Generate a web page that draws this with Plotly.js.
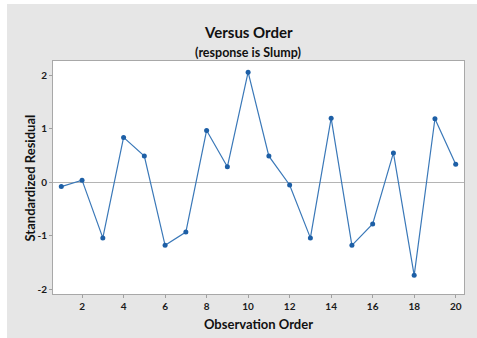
<!DOCTYPE html>
<html>
<head>
<meta charset="utf-8">
<script src="https://cdn.plot.ly/plotly-3.0.1.min.js"></script>
<style>
  html, body { margin: 0; padding: 0; background: #ffffff; }
  #chart { position: absolute; left: 7px; top: 4px; width: 470px; height: 334px; }
</style>
</head>
<body>
<div id="chart"></div>
<script>
const observationOrder = [1,2,3,4,5,6,7,8,9,10,11,12,13,14,15,16,17,18,19,20];
const standardizedResidual = [-0.08, 0.04, -1.04, 0.84, 0.49, -1.18, -0.93, 0.97, 0.29, 2.06,
                              0.49, -0.05, -1.04, 1.20, -1.18, -0.78, 0.55, -1.74, 1.19, 0.34];
const xTicks = [2,4,6,8,10,12,14,16,18,20];
const yTicks = [-2,-1,0,1,2];
const titleText = "Versus Order";
const subtitleText = "(response is Slump)";
const xTitle = "Observation Order";
const yTitle = "Standardized Residual";

const fontFam = "Lato, 'Liberation Sans', sans-serif";

const trace = {
  x: observationOrder,
  y: standardizedResidual,
  type: 'scatter',
  mode: 'lines+markers',
  line: { color: '#3a78b8', width: 1.2 },
  marker: { color: '#1d5fa6', size: 5 },
  hoverinfo: 'x+y'
};

const layout = {
  width: 470, height: 334,
  paper_bgcolor: '#e6e6e6',
  plot_bgcolor: '#ffffff',
  margin: { l: 46, r: 13, t: 57, b: 44 },
  showlegend: false,
  font: { family: fontFam, color: '#1a1a1a' },
  xaxis: {
    range: [0.6, 20.4],
    tickvals: xTicks,
    ticktext: xTicks.map(String),
    ticks: 'outside', ticklen: 3, tickcolor: '#a0a0a0', tickwidth: 1,
    showgrid: false, zeroline: false,
    showline: true, linecolor: '#a8a8a8', linewidth: 1, mirror: true,
    tickfont: { family: fontFam, size: 10, color: '#1a1a1a', weight: 'bold' },
    title: { text: xTitle, font: { family: fontFam, size: 13, color: '#111', weight: 'bold' }, standoff: 8 }
  },
  yaxis: {
    range: [-2.09, 2.27],
    tickvals: yTicks,
    ticktext: yTicks.map(String),
    ticks: 'outside', ticklen: 3, tickcolor: '#a0a0a0', tickwidth: 1,
    showgrid: false,
    zeroline: true, zerolinecolor: '#b4b4b4', zerolinewidth: 1,
    showline: true, linecolor: '#a8a8a8', linewidth: 1, mirror: true,
    tickfont: { family: fontFam, size: 10, color: '#1a1a1a', weight: 'bold' }
  },
  annotations: [
    { text: titleText, xref: 'paper', yref: 'paper', x: 0.475, y: 262/233,
      xanchor: 'center', yanchor: 'middle', showarrow: false,
      font: { family: fontFam, size: 15, color: '#111', weight: 'bold' } },
    { text: subtitleText, xref: 'paper', yref: 'paper', x: 0.475, y: 242/233,
      xanchor: 'center', yanchor: 'middle', showarrow: false,
      font: { family: fontFam, size: 12.5, color: '#111', weight: 'bold' } },
    { text: yTitle, xref: 'paper', yref: 'paper', x: -0.056, y: 0.5,
      xanchor: 'center', yanchor: 'middle', textangle: -90, showarrow: false,
      font: { family: fontFam, size: 13, color: '#111', weight: 'bold' } }
  ]
};

Plotly.newPlot('chart', [trace], layout, { displayModeBar: false, staticPlot: true });
</script>
</body>
</html>
